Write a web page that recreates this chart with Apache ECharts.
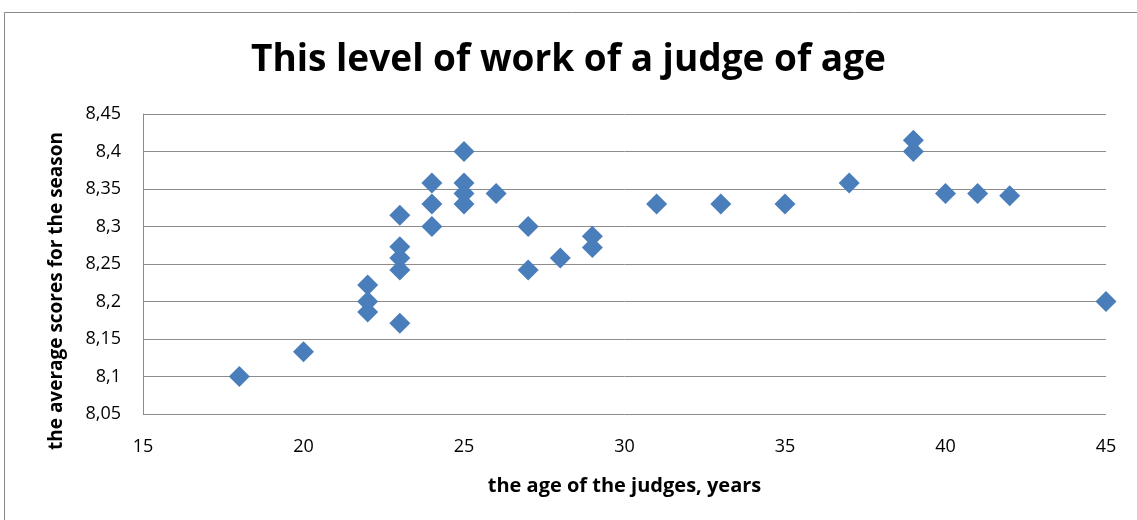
<!DOCTYPE html>
<html><head><meta charset="utf-8">
<script src="https://cdn.jsdelivr.net/npm/echarts@6/dist/echarts.min.js"></script>
<style>html,body{margin:0;padding:0;background:#fff}#c{width:1137px;height:520px}</style>
</head><body><div id="c"></div>
<script>
var ages = [18, 20, 22, 22, 22, 23, 23, 23, 23, 23, 24, 24, 24, 25, 25, 25, 25, 26, 27, 27, 28, 29, 29, 31, 33, 35, 37, 39, 39, 40, 41, 42, 45];
var scores = [8.1, 8.133, 8.222, 8.2, 8.186, 8.315, 8.273, 8.258, 8.242, 8.171, 8.358, 8.33, 8.3, 8.4, 8.358, 8.344, 8.33, 8.344, 8.3, 8.242, 8.258, 8.287, 8.272, 8.33, 8.33, 8.33, 8.358, 8.415, 8.4, 8.344, 8.344, 8.341, 8.2];
var titleText = "This level of work of a judge of age";
var xName = "the age of the judges, years";
var yName = "the average scores for the season";

var pts = ages.map(function(a, i){ return [a, scores[i]]; });
var chart = echarts.init(document.getElementById('c'));
var FONT = '"Open Sans"';
chart.setOption({
  animation: false,
  backgroundColor: '#fff',
  graphic: [
    {type:'rect', shape:{x:4.5, y:12.5, width:1140, height:520}, style:{fill:'none', stroke:'#888', lineWidth:1}},
    {type:'text', x:57, y:291, rotation:Math.PI/2,
     style:{text:yName, fontFamily:FONT, fontSize:19, fontWeight:'bold', fill:'#000', align:'center', verticalAlign:'middle'}}
  ],
  title: {text: titleText, left: 'center', top: 37, textStyle:{fontFamily: FONT, fontSize: 37, fontWeight: 'bold', color:'#000'}},
  grid: {left: 143, right: 31, top: 114, bottom: 106},
  xAxis: {type:'value', min:15, max:45, interval:5,
    name: xName, nameLocation:'middle', nameGap: 62,
    nameTextStyle:{fontFamily:FONT, fontSize:20, fontWeight:'bold', color:'#000'},
    axisLine:{show:false}, axisTick:{show:false}, splitLine:{show:false},
    axisLabel:{fontFamily:FONT, fontSize:18, color:'#000', margin:24}},
  yAxis: {type:'value', min:8.05, max:8.45, interval:0.05,
    axisLine:{show:true, lineStyle:{color:'#8c8c8c', width:1}}, axisTick:{show:false},
    splitLine:{lineStyle:{color:'#8c8c8c', width:1}},
    axisLabel:{fontFamily:FONT, fontSize:18, color:'#000', margin:22,
      formatter:function(v){ return String(Number(v.toFixed(2))).replace('.', ','); }}},
  series: [{type:'scatter', data: pts, symbol:'diamond', symbolSize:[21,21],
    itemStyle:{color:'#4A7EBB', opacity:1}}]
});
</script></body></html>
